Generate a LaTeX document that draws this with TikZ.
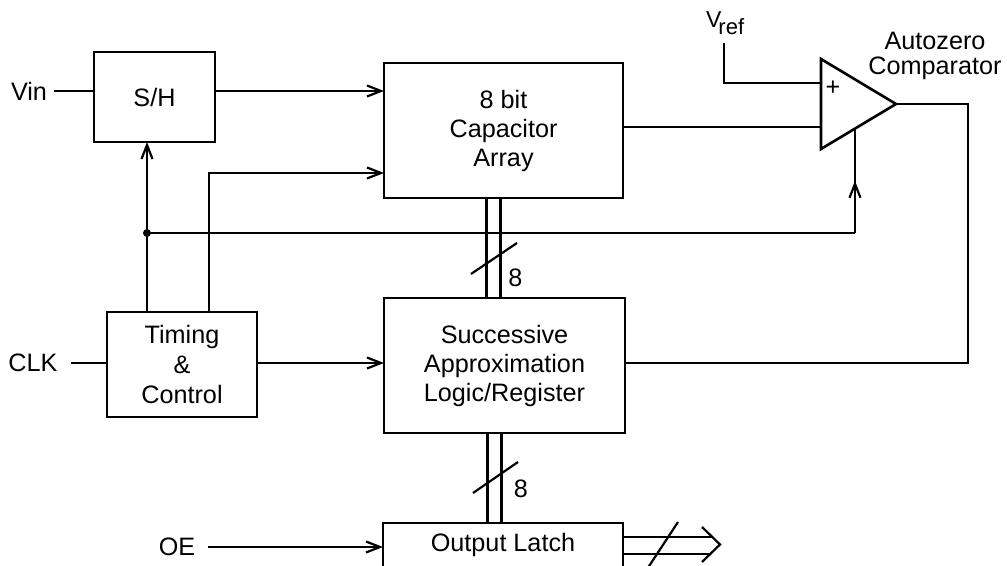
\documentclass[tikz,border=0pt]{standalone}
\usepackage{fontspec}
\setmainfont{Liberation Sans}
\usetikzlibrary{arrows.meta, calc, decorations.markings}

\begin{document}
\begin{tikzpicture}[x=0.5pt, y=-0.5pt, >={Straight Barb[length=7pt,width=5.5pt]}, line width=1.1pt,
  font=\fontsize{12.6}{14.5}\selectfont,
  blk/.style={draw, line width=1.3pt, align=center, outer sep=0pt},
  midarr/.style={postaction={decorate}, decoration={markings, mark=at position 0.5 with {\arrow{>}}}}]
  \clip (0,0) rectangle (1007,566);
  \node[blk, minimum width=60.5pt, minimum height=45pt] (sh) at (154.5,97) {S/H};
  \node[blk, minimum width=119.5pt, minimum height=67.5pt] (cap) at (503.5,130.5) {8 bit\\Capacitor\\Array};
  \node[blk, minimum width=120.5pt, minimum height=67.5pt] (sar) at (504.5,365.5) {Successive\\Approximation\\Logic/Register};
  \node[blk, minimum width=75pt, minimum height=52.5pt, font=\fontsize{12.6}{15}\selectfont] (tim) at (182,364.5) {Timing\\\&\\Control};
  \node[blk, minimum width=120pt, anchor=north, text height=11pt, text depth=30pt] (latch) at (503,523) {Output Latch};
  \coordinate (cT) at (821,59);
  \coordinate (cB) at (821,149);
  \coordinate (cO) at (896,104);
  \draw[line width=1.3pt] (cT) -- (cO) -- (cB) -- cycle;
  \node (plus) at (833,88) {+};
  \node[align=center, font=\fontsize{12.6}{12.5}\selectfont] (atz) at (935,56) {Autozero\\Comparator};
  \node[anchor=base west, inner sep=0pt] (vref) at (705,28) {\fontsize{11.5}{11}\selectfont V\kern-1.5pt\raisebox{-3.5pt}{\fontsize{11}{10}\selectfont ref}};
  \coordinate (vpin) at (724,43);
  \coordinate (cP) at ($(cT)!0.267!(cB)$);
  \coordinate (cN) at ($(cT)!0.756!(cB)$);
  \coordinate (cL) at ($(cB)!0.453!(cO)$);
  \draw (vpin) |- (cP);
  \draw (cap.east |- cN) -- (cN);
  \node[inner sep=3pt] (vin) at (29,91) {Vin};
  \draw (vin) -- (vin -| sh.west);
  \draw[->] (sh.east |- vin) -- (cap.west |- vin);
  \coordinate (t1) at ($(tim.north west)+(40,0)$);
  \coordinate (t2) at ($(tim.north west)+(102,0)$);
  \coordinate (jn) at ($(t1)+(0,-79)$);
  \draw[->] (t1) -- (t1 |- sh.south);
  \draw[->] (t2) |- ($(cap.north west)+(0,110)$);
  \draw (jn) -- (jn -| cL);
  \draw[midarr] (jn -| cL) -- (cL);
  \fill (jn) circle (2pt);
  \node[inner sep=6pt] (clk) at (33,363) {CLK};
  \draw (clk) -- (clk -| tim.west);
  \draw[->] (tim.east |- clk) -- (sar.west |- clk);
  \coordinate (fb) at (968,363);
  \draw (cO) -| (fb) -- (sar.east |- fb);
  \node[inner sep=6pt] (oe) at (177,547) {OE};
  \draw[->] (oe) -- (oe -| latch.west);
  \foreach \dx in {-17,-3} {
    \draw ($(cap.south)+(\dx,0)$) -- ++(0,100);
    \draw ($(sar.south)+(\dx,0)$) -- ++(0,90);
  }
  \draw ($(cap.south)+(-32.5,76)$) -- ++(46,-31);
  \node (n8a) at ($(cap.south)+(12,80)$) {8};
  \draw ($(sar.south)+(-31.5,60)$) -- ++(45,-31);
  \node (n8b) at ($(sar.south)+(16.5,55.5)$) {8};
  \coordinate (otip) at (720,544.5);
  \draw ($(otip)+(-18,-17.5)$) -- (otip) -- ($(otip)+(-18,17.5)$);
  \draw (latch.east |- 0,537) -- ($(otip)+(-7.7,-7.5)$);
  \draw (latch.east |- 0,554) -- ($(otip)+(-9.8,9.5)$);
  \draw (646.5,570) -- (678,522);
\end{tikzpicture}
\end{document}
